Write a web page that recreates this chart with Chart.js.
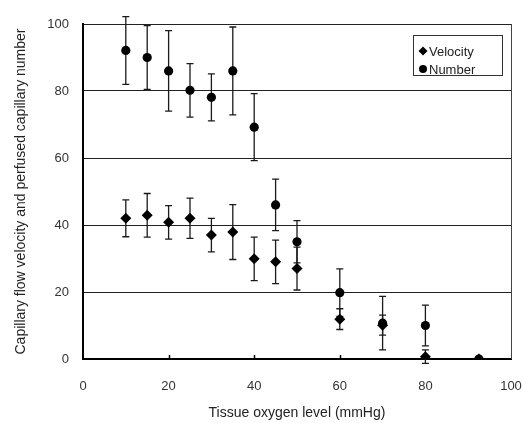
<!DOCTYPE html>
<html><head><meta charset="utf-8">
<script src="https://cdn.jsdelivr.net/npm/chart.js@4/dist/chart.umd.min.js"></script>
<style>html,body{margin:0;padding:0;background:#fff}#wrap{width:523px;height:423px}canvas{display:block}</style>
</head><body><div id="wrap"><canvas id="c" width="523" height="423"></canvas></div>
<script>
const oxygen = [10, 15, 20, 25, 30, 35, 40, 45, 50, 60, 70, 80, 92.5];
const velocity = [42.0, 42.9, 40.8, 42.0, 37.0, 37.9, 29.9, 29.0, 27.0, 11.9, 10.1, 0.7, 0];
const velocityErr = [5.5, 6.5, 5.0, 6.0, 5.0, 8.2, 6.5, 6.5, 6.4, 3.1, 3.0, 2.0, 0];
const number = [92.1, 90.0, 86.0, 80.2, 78.1, 86.0, 69.2, 46.0, 35.0, 19.8, 10.7, 10.0, 0];
const numberErr = [10.1, 9.5, 12.0, 8.0, 7.0, 13.1, 10.0, 7.7, 6.3, 7.1, 8.0, 6.1, 0];
const xTicks = [0, 20, 40, 60, 80, 100];
const yTicks = [0, 20, 40, 60, 80, 100];
const seriesLabels = ['Velocity', 'Number'];

const FONT = "'Liberation Sans', Arial, sans-serif";

const errorBars = {
  id: 'errorBars',
  beforeDatasetsDraw(chart) {
    const {ctx, scales: {x, y}} = chart;
    ctx.save();
    ctx.strokeStyle = '#1a1a1a';
    ctx.lineWidth = 1.3;
    chart.data.datasets.forEach(ds => {
      ds.data.forEach((p, i) => {
        const e = ds.errors[i];
        if (!e) return;
        const px = x.getPixelForValue(p.x);
        const yt = y.getPixelForValue(p.y + e);
        const yb = y.getPixelForValue(p.y - e);
        ctx.beginPath();
        ctx.moveTo(px, yt); ctx.lineTo(px, yb);
        ctx.moveTo(px - 3.5, yt); ctx.lineTo(px + 3.5, yt);
        ctx.moveTo(px - 3.5, yb); ctx.lineTo(px + 3.5, yb);
        ctx.stroke();
      });
    });
    ctx.restore();
  }
};

const frame = {
  id: 'frame',
  afterDraw(chart) {
    const {ctx, chartArea: a, scales: {x}} = chart;
    ctx.save();
    ctx.strokeStyle = '#444';
    ctx.lineWidth = 1;
    ctx.beginPath();
    ctx.moveTo(a.right + 0.5, a.top);
    ctx.lineTo(a.right + 0.5, a.bottom);
    ctx.stroke();
    ctx.strokeStyle = '#000';
    ctx.lineWidth = 1.5;
    xTicks.forEach(v => {
      if (v === 0 || v === 100) return;
      const px = Math.round(x.getPixelForValue(v)) + 0.5;
      ctx.beginPath();
      ctx.moveTo(px, a.bottom);
      ctx.lineTo(px, a.bottom - 4);
      ctx.stroke();
    });
    const bx = a.right - 98, by = a.top + 11, bw = 89, bh = 40;
    ctx.fillStyle = '#fff';
    ctx.fillRect(bx, by, bw, bh);
    ctx.strokeStyle = '#333';
    ctx.lineWidth = 1;
    ctx.strokeRect(bx + 0.5, by + 0.5, bw, bh);
    ctx.fillStyle = '#000';
    const mx = bx + 10, y1 = by + 16, y2 = by + 34;
    ctx.beginPath();
    ctx.moveTo(mx, y1 - 4.5); ctx.lineTo(mx + 4.5, y1); ctx.lineTo(mx, y1 + 4.5); ctx.lineTo(mx - 4.5, y1);
    ctx.closePath(); ctx.fill();
    ctx.beginPath();
    ctx.arc(mx, y2, 4, 0, Math.PI * 2); ctx.fill();
    ctx.fillStyle = '#222';
    ctx.font = '13px ' + FONT;
    ctx.textBaseline = 'middle';
    ctx.textAlign = 'left';
    ctx.fillText(seriesLabels[0], mx + 6, y1 + 1);
    ctx.fillText(seriesLabels[1], mx + 6, y2 + 1);
    ctx.restore();
  }
};

new Chart(document.getElementById('c'), {
  type: 'scatter',
  data: {
    datasets: [
      {
        label: seriesLabels[1],
        data: oxygen.map((v, i) => ({x: v, y: number[i]})),
        errors: numberErr,
        pointStyle: 'circle', pointRadius: 4.6,
        backgroundColor: '#000', borderColor: '#000', borderWidth: 0
      },
      {
        label: seriesLabels[0],
        data: oxygen.map((v, i) => ({x: v, y: velocity[i]})),
        errors: velocityErr,
        pointStyle: 'rectRot', pointRadius: 5.5,
        backgroundColor: '#000', borderColor: '#000', borderWidth: 0
      }
    ]
  },
  options: {
    responsive: false,
    animation: false,
    devicePixelRatio: 1,
    layout: {padding: {left: 0, right: 12, top: 24, bottom: 0}},
    plugins: {legend: {display: false}, tooltip: {enabled: false}},
    scales: {
      x: {
        type: 'linear', min: 0, max: 100,
        afterBuildTicks(s) { s.ticks = xTicks.map(v => ({value: v})); },
        afterFit(s) { s.height = 64; s.paddingLeft = 0; s.paddingRight = 0; },
        grid: {display: false, drawTicks: false},
        border: {display: true, color: '#000', width: 2},
        ticks: {padding: 20, color: '#333', font: {family: FONT, size: 13}, maxRotation: 0},
        title: {display: true, text: 'Tissue oxygen level (mmHg)', color: '#222',
                font: {family: FONT, size: 14}, padding: {top: 1, bottom: 1}}
      },
      y: {
        type: 'linear', min: 0, max: 100,
        afterBuildTicks(s) { s.ticks = yTicks.map(v => ({value: v})); },
        afterFit(s) { s.width = 83; s.paddingTop = 0; s.paddingBottom = 0; },
        grid: {color: '#222', lineWidth: 1, drawTicks: false},
        border: {display: true, color: '#000', width: 2},
        ticks: {padding: 14, color: '#333', font: {family: FONT, size: 13}},
        title: {display: true, text: 'Capillary flow velocity and perfused capillary number', color: '#222',
                font: {family: FONT, size: 14}, padding: {top: 13, bottom: 0}}
      }
    }
  },
  plugins: [errorBars, frame]
});
</script></body></html>
